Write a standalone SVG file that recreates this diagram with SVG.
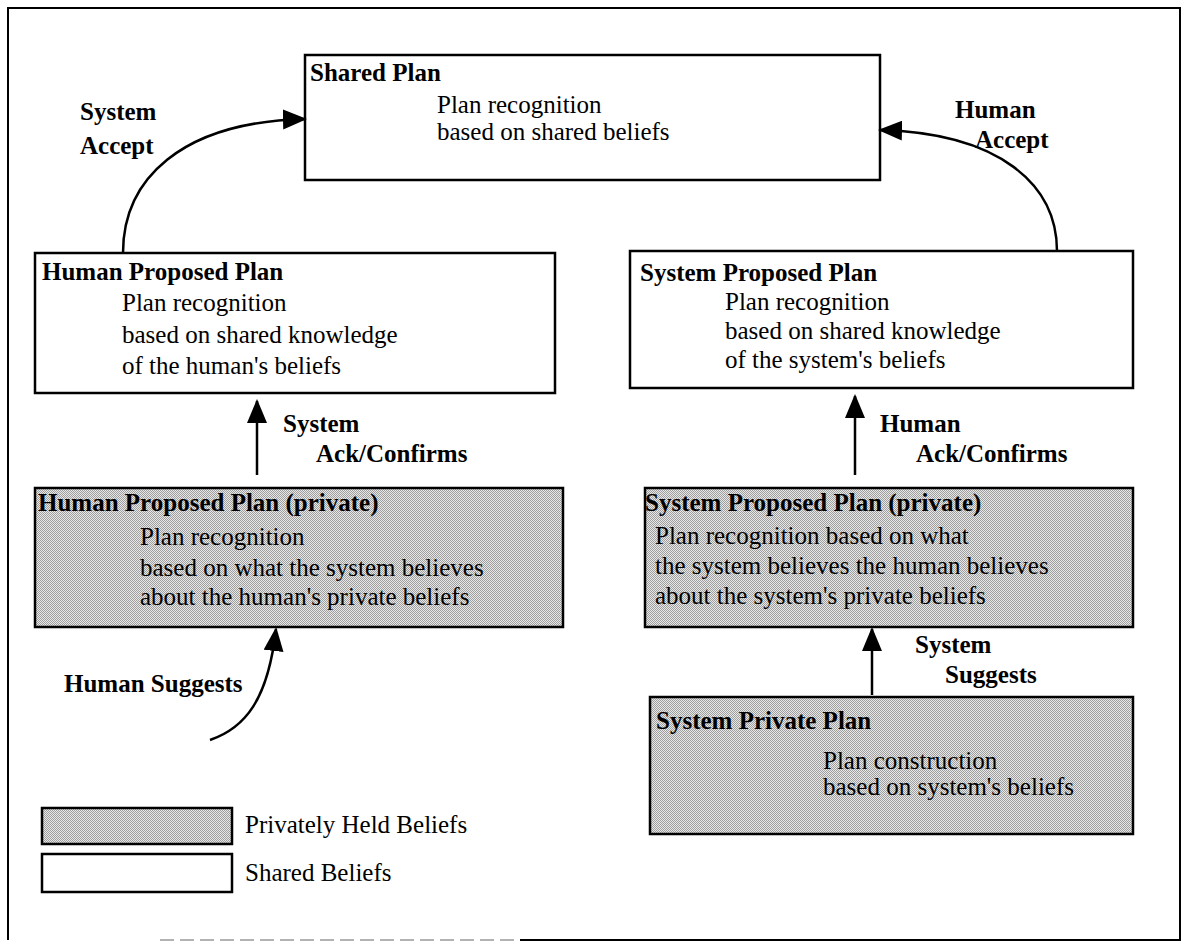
<svg xmlns="http://www.w3.org/2000/svg" width="1187" height="948" viewBox="0 0 1187 948">
<style>
.box{stroke:#000;stroke-width:2.5}
.shared{fill:#fff}
.private{fill:url(#stipple)}
text{font-family:"Liberation Serif","Times New Roman",serif;font-size:25px;fill:#000}
.b{font-weight:bold}
.conn{fill:none;stroke:#000;stroke-width:2.5}
.frame{fill:none;stroke:#000;stroke-width:2}
</style>
<defs>
<pattern id="stipple" width="2" height="2" patternUnits="userSpaceOnUse">
<rect width="2" height="2" fill="#e8e8e8"/>
<rect x="0" y="0" width="1" height="1" fill="#9e9e9e"/>
<rect x="1" y="1" width="1" height="1" fill="#9e9e9e"/>
</pattern>
<marker id="ah" markerWidth="24" markerHeight="20" refX="22" refY="10" orient="auto" markerUnits="userSpaceOnUse">
<path d="M0,0 L24,10 L0,20 Z" fill="#000"/>
</marker>
</defs>
<path class="frame" d="M520,940 L1180,940 L1180,8 L8,8 L8,940"/>
<path d="M160,940 L520,940" fill="none" stroke="#999" stroke-width="1.5" stroke-dasharray="14,6"/>

<g id="shared-plan">
<rect class="box shared" x="305" y="55" width="575" height="125"/>
<text class="b" x="310" y="81">Shared Plan</text>
<text x="437" y="113">Plan recognition</text>
<text x="437" y="140">based on shared beliefs</text>
</g>

<g id="human-proposed-plan">
<rect class="box shared" x="35" y="253" width="520" height="140"/>
<text class="b" x="42" y="280">Human Proposed Plan</text>
<text x="122" y="311">Plan recognition</text>
<text x="122" y="343">based on shared knowledge</text>
<text x="122" y="374">of the human's beliefs</text>
</g>

<g id="system-proposed-plan">
<rect class="box shared" x="630" y="251" width="503" height="137"/>
<text class="b" x="640" y="281">System Proposed Plan</text>
<text x="725" y="310">Plan recognition</text>
<text x="725" y="339">based on shared knowledge</text>
<text x="725" y="368">of the system's beliefs</text>
</g>

<g id="human-proposed-private">
<rect class="box private" x="35" y="488" width="528" height="139"/>
<text class="b" x="38" y="511">Human Proposed Plan (private)</text>
<text x="140" y="545">Plan recognition</text>
<text x="140" y="576">based on what the system believes</text>
<text x="140" y="605">about the human's private beliefs</text>
</g>

<g id="system-proposed-private">
<rect class="box private" x="645" y="488" width="488" height="139"/>
<text class="b" x="645" y="511">System Proposed Plan (private)</text>
<text x="655" y="544">Plan recognition based on what</text>
<text x="655" y="574">the system believes the human believes</text>
<text x="655" y="604">about the system's private beliefs</text>
</g>

<g id="system-private-plan">
<rect class="box private" x="650" y="697" width="483" height="137"/>
<text class="b" x="656" y="729">System Private Plan</text>
<text x="823" y="769">Plan construction</text>
<text x="823" y="795">based on system's beliefs</text>
</g>

<g id="legend">
<rect class="box private" x="42" y="808" width="190" height="36"/>
<text x="245" y="833">Privately Held Beliefs</text>
<rect class="box shared" x="42" y="854" width="190" height="38"/>
<text x="245" y="881">Shared Beliefs</text>
</g>

<g id="connectors">
<path class="conn" marker-end="url(#ah)" d="M123,253 C123,180 180,122 305,119"/>
<path class="conn" marker-end="url(#ah)" d="M1057,251 C1057,185 1000,133 880,130"/>
<path class="conn" marker-end="url(#ah)" d="M257,475 L257,401"/>
<path class="conn" marker-end="url(#ah)" d="M855,475 L855,396"/>
<path class="conn" marker-end="url(#ah)" d="M872,695 L872,629"/>
<path class="conn" marker-end="url(#ah)" d="M210,740 C245,728 268,700 276,629"/>
</g>

<g id="labels">
<text class="b" x="80" y="120">System</text>
<text class="b" x="80" y="154">Accept</text>
<text class="b" x="955" y="118">Human</text>
<text class="b" x="975" y="148">Accept</text>
<text class="b" x="283" y="432">System</text>
<text class="b" x="316" y="462">Ack/Confirms</text>
<text class="b" x="880" y="432">Human</text>
<text class="b" x="916" y="462">Ack/Confirms</text>
<text class="b" x="64" y="692">Human Suggests</text>
<text class="b" x="915" y="653">System</text>
<text class="b" x="945" y="683">Suggests</text>
</g>
</svg>
